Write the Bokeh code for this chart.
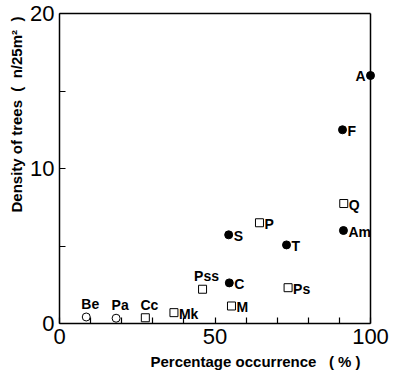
from bokeh.plotting import figure
from bokeh.models import FixedTicker, Title, LinearAxis
from bokeh.core.properties import value
from bokeh.embed import file_html
from bokeh.resources import INLINE

# ---- data ----
filled_names = ["A", "F", "Am", "T", "S", "C"]
filled_x = [100.0, 91.0, 91.3, 73.0, 54.4, 54.6]
filled_y = [16.0, 12.5, 6.0, 5.07, 5.72, 2.62]

square_names = ["Q", "P", "Ps", "Pss", "M", "Mk", "Cc"]
square_x = [91.4, 64.3, 73.5, 46.0, 55.3, 36.8, 27.6]
square_y = [7.74, 6.5, 2.31, 2.21, 1.13, 0.70, 0.37]

open_names = ["Pa", "Be"]
open_x = [18.2, 8.6]
open_y = [0.34, 0.42]

x_major = [0, 50, 100]
x_minor = [10, 20, 30, 40, 60, 70, 80, 90]
y_major = [0, 10, 20]
y_minor = [5, 15]

NB = "\u00a0"
x_title = "Percentage occurrence" + NB * 3 + "(" + NB + "%" + NB + ")"
y_title = "Density of trees" + NB * 2 + "(" + NB * 2 + "n/25m²" + NB * 2 + ")"

# label placement groups (screen offsets)
left_labels = ["A"]
above_labels = ["Pss", "Be", "Pa", "Cc"]

FONT = "Liberation Sans"

p = figure(width=394, height=375, x_range=(0, 100), y_range=(0, 20),
           output_backend="svg", toolbar_location=None,
           min_border_left=59, min_border_right=24,
           min_border_top=13, min_border_bottom=52)
p.background_fill_color = "white"
p.border_fill_color = "white"
p.grid.visible = False
p.outline_line_color = None

for ax in (p.xaxis[0], p.yaxis[0]):
    ax.axis_line_width = 1.5
    ax.axis_line_color = "black"
    ax.major_tick_in = 6
    ax.major_tick_out = 0
    ax.minor_tick_in = 6
    ax.minor_tick_out = 0
    ax.major_tick_line_width = 1.2
    ax.minor_tick_line_width = 1.2
    ax.major_label_text_font = FONT
    ax.major_label_text_font_size = "22px"
    ax.major_label_text_color = "black"
    ax.major_label_standoff = 5

p.xaxis[0].ticker = FixedTicker(ticks=x_major, minor_ticks=x_minor)
p.yaxis[0].ticker = FixedTicker(ticks=y_major, minor_ticks=y_minor)

# box edges on top and right
for side, tk in (("right", y_major), ("above", x_major)):
    bx = LinearAxis(ticker=FixedTicker(ticks=tk), major_label_text_color=None,
                    axis_line_width=1.5, axis_line_color="black",
                    major_tick_in=0, major_tick_out=0,
                    minor_tick_in=0, minor_tick_out=0)
    p.add_layout(bx, side)

# markers
p.scatter(filled_x, filled_y, marker="circle", size=8, fill_color="black",
          line_color="black", level="overlay")
p.scatter(square_x, square_y, marker="square", size=8, fill_color="white",
          line_color="black", line_width=1)
p.scatter(open_x, open_y, marker="circle", size=8, fill_color="white",
          line_color="black", line_width=1)

# point labels
names = filled_names + square_names + open_names
xs = filled_x + square_x + open_x
ys = filled_y + square_y + open_y

groups = {"right": ([], [], []), "left": ([], [], []), "above": ([], [], [])}
for n, x, y in zip(names, xs, ys):
    g = "left" if n in left_labels else ("above" if n in above_labels else "right")
    groups[g][0].append(n); groups[g][1].append(x); groups[g][2].append(y)

common = dict(text_font=value(FONT), text_font_style="bold", text_font_size="14px", text_color="black")
n, x, y = groups["right"]
p.text(x, y, text=n, x_offset=5, y_offset=1, text_align="left", text_baseline="middle", **common)
n, x, y = groups["left"]
p.text(x, y, text=n, x_offset=-5, y_offset=0, text_align="right", text_baseline="middle", **common)
n, x, y = groups["above"]
p.text(x, y, text=n, x_offset=4, y_offset=-5, text_align="center", text_baseline="bottom", **common)

# axis titles
p.add_layout(Title(text=x_title, align="left", offset=91, standoff=8,
                   text_font=FONT, text_font_style="bold", text_font_size="15px",
                   text_color="black"), "below")
p.add_layout(Title(text=y_title, align="left", offset=111, standoff=6,
                   text_font=FONT, text_font_style="bold", text_font_size="15px",
                   text_color="black"), "left")

open("out.html", "w").write(file_html(p, INLINE))
